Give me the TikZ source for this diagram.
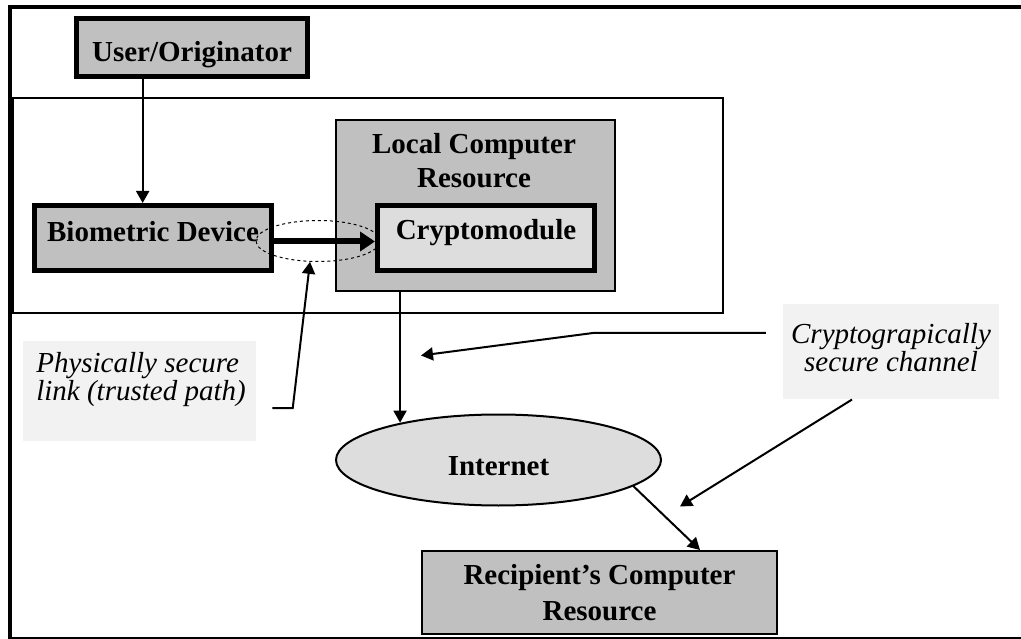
\documentclass[tikz,border=0pt]{standalone}
\usepackage{fontspec}
\setmainfont{Liberation Serif}
\usetikzlibrary{arrows.meta,shapes.geometric,calc}
\definecolor{boxgray}{RGB}{192,192,192}
\definecolor{lightfill}{RGB}{221,221,221}
\definecolor{labelbg}{RGB}{242,242,242}
\begin{document}
\begin{tikzpicture}[x=1pt,y=-1pt,
  bfont/.style={font=\fontsize{29}{34}\selectfont\bfseries},
  ifont/.style={font=\fontsize{29}{28}\selectfont\itshape},
  thickbox/.style={draw=black,line width=5pt,fill=boxgray,inner sep=0pt,bfont},
  thinbox/.style={draw=black,line width=2pt,fill=boxgray,inner sep=0pt,bfont},
  arr/.style={draw=black,line width=2pt,-{Triangle[length=12pt,width=13pt]}},
  bigarr/.style={draw=black,line width=6pt,-{Triangle[length=15pt,width=19pt]}},
  labelbox/.style={fill=labelbg,inner sep=0pt},
]
\useasboundingbox (0,0) rectangle (1021,639);
% outer frame
\draw[line width=4pt] (8,7) -- (1021,7);
\draw[line width=4pt] (10,5) -- (10,639);
\draw[line width=1.5pt] (8,638) -- (1021,638);
% local zone
\node[draw,line width=2pt,inner sep=0pt,minimum width=710pt,minimum height=215.3pt] (zone) at (368,205.35) {};
% boxes
\node[thickbox,minimum width=231pt,minimum height=58pt,text height=28.4pt,text depth=0pt] (user) at (192,47.5) {User/Originator};
\node[thickbox,minimum width=237pt,minimum height=65pt,text height=13.4pt,text depth=6pt] (bio) at (153,238) {Biometric Device};
\node[draw=black,line width=1.5pt,fill=boxgray,inner sep=0pt,minimum width=279pt,minimum height=171pt] (local) at (475.5,205.5) {};
\node[bfont,align=center,inner sep=0pt] (localtxt) at (474,160.5) {Local Computer\\Resource};
\node[draw,dashed,dash pattern=on 3pt off 3pt,line width=1pt,ellipse,inner sep=0pt,minimum width=124pt,minimum height=41pt] (link) at (318,241) {};
\node[thickbox,fill=lightfill,minimum width=217pt,minimum height=65pt,text height=10pt,text depth=6pt] (crypto) at (486,238) {Cryptomodule};
\node[draw=black,line width=2pt,fill=lightfill,ellipse,inner sep=0pt,minimum width=325pt,minimum height=91pt,bfont,text height=30pt,text depth=0pt] (inet) at (498.5,460) {Internet};
\node[thinbox,align=center,font=\fontsize{29}{36.5}\selectfont\bfseries,minimum width=355pt,minimum height=83pt] (rec) at (599.5,592.5) {Recipient’s Computer\\Resource};
% callout labels
\node[labelbox,minimum width=233.3pt,minimum height=99.7pt] (plab) at (139.4,391) {};
\node[ifont,align=left,inner sep=0pt] (ptxt) at (141,379.5) {Physically secure\\link (trusted path)};
\node[labelbox,minimum width=216.3pt,minimum height=95.3pt] (clab) at (891,351.7) {};
\node[ifont,align=center,inner sep=0pt] (ctxt) at (891,347.4) {Cryptograpically\\secure channel};
\coordinate (c2tip) at (421,355.5);
\coordinate (c3tip) at (680,506.5);
% connectors
\draw[arr] ($(user.south west)!0.291!(user.south east)$) coordinate (u1) -- (u1 |- bio.north);
\draw[bigarr] ($(bio.east)+(0,3.5)$) -- ($(crypto.west)+(0,3.5)$);
\draw[arr] ($(local.south west)!0.231!(local.south east)$) coordinate (l1) -- (l1 |- inet.159);
\draw[arr] (inet.-11) -- ($(rec.north west)!0.7815!(rec.north east)$);
\draw[arr] ($(plab.east)+(16,17)$) -- ++(20.5,0) -- (link.-111);
\draw[arr] ($(clab.west)+(-16.7,-18.7)$) -- ++(-173,0) -- (c2tip);
\draw[arr] ($(clab.south)+(-39,0)$) -- (c3tip);
\end{tikzpicture}
\end{document}
